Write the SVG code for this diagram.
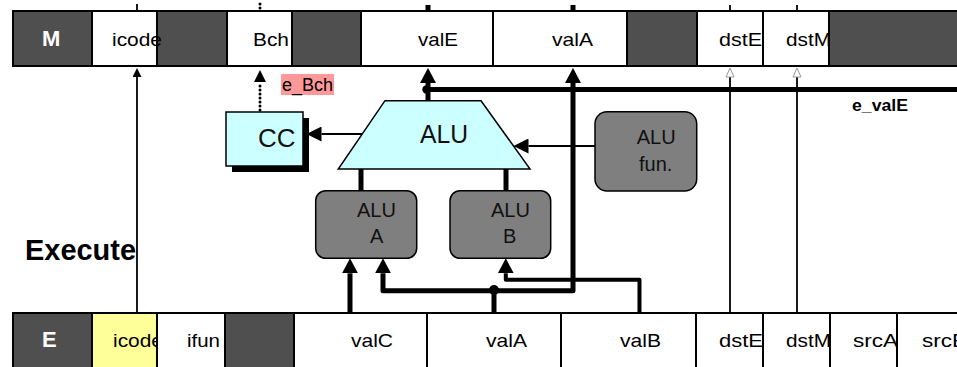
<svg xmlns="http://www.w3.org/2000/svg" width="957" height="367" viewBox="0 0 957 367">
<style>
.d{fill:#4f4f4f;stroke:#000;stroke-width:2}
.w{fill:#fff;stroke:#000;stroke-width:2}
.y{fill:#ffff99;stroke:#000;stroke-width:2}
.t{font-family:"Liberation Sans",Arial,sans-serif;font-size:19px;fill:#000}
.tb{font-family:"Liberation Sans",Arial,sans-serif;font-size:22px;font-weight:bold;fill:#fff}
.bx{font-family:"Liberation Sans",Arial,sans-serif;font-size:20px;fill:#111}
.gray{fill:#7f7f7f;stroke:#000;stroke-width:1.5}
.cyan{fill:#ccffff;stroke:#000;stroke-width:1.5}
.thick{fill:none;stroke:#000;stroke-width:5;stroke-linejoin:round}
.thin{fill:none;stroke:#000;stroke-width:1.8}
.dot{fill:none;stroke:#000;stroke-width:3;stroke-linecap:round;stroke-dasharray:0 4}
</style>
<defs>
<marker id="ahT" viewBox="0 0 15 16" refX="0" refY="8" markerWidth="15" markerHeight="16" markerUnits="userSpaceOnUse" orient="auto-start-reverse"><path d="M0,0L15,8L0,16z"/></marker>
<marker id="ahM" viewBox="0 0 15 15" refX="0" refY="7.5" markerWidth="15" markerHeight="15" markerUnits="userSpaceOnUse" orient="auto"><path d="M0,0L15,7.5L0,15z"/></marker>
<marker id="ahD" viewBox="0 0 12 12" refX="0" refY="6" markerWidth="12" markerHeight="12" markerUnits="userSpaceOnUse" orient="auto"><path d="M0,0L12,6L0,12z"/></marker>
<marker id="ahS" viewBox="0 0 9 9" refX="0" refY="4.5" markerWidth="9" markerHeight="9" markerUnits="userSpaceOnUse" orient="auto"><path d="M0,0L9,4.5L0,9z"/></marker>
<marker id="ahH" viewBox="-1 -1 11 10" refX="0" refY="4" markerWidth="11" markerHeight="10" markerUnits="userSpaceOnUse" orient="auto"><path d="M0,0L9,4L0,8z" fill="#fff" stroke="#999" stroke-width="1"/></marker>
</defs>
<rect width="957" height="367" fill="#fff"/>

<g id="reg-M">
<rect class="d" x="13" y="11" width="79" height="55"/>
<rect class="w" x="92" y="11" width="65" height="55"/>
<rect class="d" x="157" y="11" width="70" height="55"/>
<rect class="w" x="227" y="11" width="65" height="55"/>
<rect class="d" x="292" y="11" width="69" height="55"/>
<rect class="w" x="361" y="11" width="132" height="55"/>
<rect class="w" x="493" y="11" width="134" height="55"/>
<rect class="d" x="627" y="11" width="70" height="55"/>
<rect class="w" x="697" y="11" width="66" height="55"/>
<rect class="w" x="763" y="11" width="66" height="55"/>
<rect class="d" x="829" y="11" width="140" height="55"/>
<text class="tb" x="42" y="46">M</text>
<text class="t" x="112" y="46" textLength="50" lengthAdjust="spacingAndGlyphs">icode</text>
<text class="t" x="253" y="46" textLength="36" lengthAdjust="spacingAndGlyphs">Bch</text>
<text class="t" x="418" y="46" textLength="40" lengthAdjust="spacingAndGlyphs">valE</text>
<text class="t" x="552" y="46" textLength="41" lengthAdjust="spacingAndGlyphs">valA</text>
<text class="t" x="719" y="46" textLength="43" lengthAdjust="spacingAndGlyphs">dstE</text>
<text class="t" x="786" y="46" textLength="45" lengthAdjust="spacingAndGlyphs">dstM</text>
</g>

<g id="reg-E">
<rect class="d" x="13" y="313" width="79" height="60"/>
<text class="tb" x="42" y="347">E</text>
<rect class="y" x="92" y="313" width="65" height="60"/>
<text class="t" x="113" y="347" textLength="50" lengthAdjust="spacingAndGlyphs">icode</text>
<rect class="w" x="157" y="313" width="68" height="60"/>
<text class="t" x="187" y="347" textLength="33" lengthAdjust="spacingAndGlyphs">ifun</text>
<rect class="d" x="225" y="313" width="69" height="60"/>
<rect class="w" x="294" y="313" width="133" height="60"/>
<text class="t" x="351" y="347" textLength="42" lengthAdjust="spacingAndGlyphs">valC</text>
<rect class="w" x="427" y="313" width="134" height="60"/>
<text class="t" x="486" y="347" textLength="41" lengthAdjust="spacingAndGlyphs">valA</text>
<rect class="w" x="561" y="313" width="135" height="60"/>
<text class="t" x="620" y="347" textLength="41" lengthAdjust="spacingAndGlyphs">valB</text>
<rect class="w" x="696" y="313" width="67" height="60"/>
<text class="t" x="719" y="347" textLength="44" lengthAdjust="spacingAndGlyphs">dstE</text>
<rect class="w" x="763" y="313" width="67" height="60"/>
<text class="t" x="786" y="347" textLength="45" lengthAdjust="spacingAndGlyphs">dstM</text>
<rect class="w" x="830" y="313" width="67" height="60"/>
<text class="t" x="853" y="347" textLength="45" lengthAdjust="spacingAndGlyphs">srcA</text>
<rect class="w" x="897" y="313" width="80" height="60"/>
<text class="t" x="922" y="347" textLength="45" lengthAdjust="spacingAndGlyphs">srcB</text>
</g>

<g id="connectors">
<path class="thin" d="M137,4V11"/>
<path class="dot" d="M260,4V11"/>
<path class="thick" d="M428,5V11"/>
<path class="thick" d="M573,5V11"/>
<path class="thin" d="M730,5V11"/>
<path class="thin" d="M797,5V11"/>
<path class="thin" d="M137,313V77" marker-end="url(#ahS)"/>
<path class="thin" d="M730,313V77" marker-end="url(#ahH)"/>
<path class="thin" d="M797,313V77" marker-end="url(#ahH)"/>
<path class="dot" d="M260,110V82" marker-end="url(#ahD)"/>
<path class="thick" d="M428,169V83" marker-end="url(#ahT)"/>
<path class="thick" d="M427,89.5H957"/>
<circle cx="426.5" cy="89.5" r="4.2"/>
<path class="thick" d="M383,273.3V290.8H573V83" marker-start="url(#ahT)" marker-end="url(#ahT)"/>
<path class="thick" d="M494,313V290.8"/>
<circle cx="494" cy="290" r="5"/>
<path class="thick" style="stroke-width:4" d="M639.5,313V279.7H505.8V273.3" marker-end="url(#ahT)"/>
<path class="thick" d="M350,313V273.3" marker-end="url(#ahT)"/>
<path class="thick" d="M361,191V168"/>
<path class="thick" d="M506,191V168"/>
<path class="thin" d="M595,146H528.5" marker-end="url(#ahM)"/>
<path class="thin" d="M362,134H321.5" marker-end="url(#ahM)"/>
</g>

<g id="cc">
<rect x="232" y="118" width="77" height="54" fill="#000"/>
<rect class="cyan" x="226" y="112" width="77" height="54"/>
<text class="bx" x="258" y="147" style="font-size:26px">CC</text>
</g>

<g id="alu">
<path class="cyan" d="M385,100.7H481L530,169H338.3Z"/>
<text class="bx" x="420" y="143" style="font-size:25px" textLength="48" lengthAdjust="spacingAndGlyphs">ALU</text>
</g>

<g id="alu-a">
<rect class="gray" x="315.7" y="190.7" width="101" height="67.6" rx="10"/>
<text class="bx" x="357" y="216.7">ALU</text>
<text class="bx" x="370" y="243.3">A</text>
</g>

<g id="alu-b">
<rect class="gray" x="450" y="190.7" width="100.7" height="67.6" rx="10"/>
<text class="bx" x="491" y="216.7">ALU</text>
<text class="bx" x="503" y="243.3">B</text>
</g>

<g id="alu-fun">
<rect class="gray" x="595" y="111.7" width="101.7" height="79.3" rx="12"/>
<text class="bx" x="636.7" y="144">ALU</text>
<text class="bx" x="639" y="170.7">fun.</text>
</g>

<g id="label-e_Bch">
<rect x="281" y="74" width="53" height="21" fill="#ff9999"/>
<text class="t" x="282" y="91" style="font-size:18px" textLength="51" lengthAdjust="spacingAndGlyphs">e_Bch</text>
</g>

<g id="label-e_valE">
<text class="t" x="852" y="111" style="font-size:16px;font-weight:bold" textLength="56" lengthAdjust="spacingAndGlyphs">e_valE</text>
</g>

<g id="label-execute">
<text class="t" x="25" y="260" style="font-size:29px;font-weight:bold" textLength="111" lengthAdjust="spacingAndGlyphs">Execute</text>
</g>
</svg>
